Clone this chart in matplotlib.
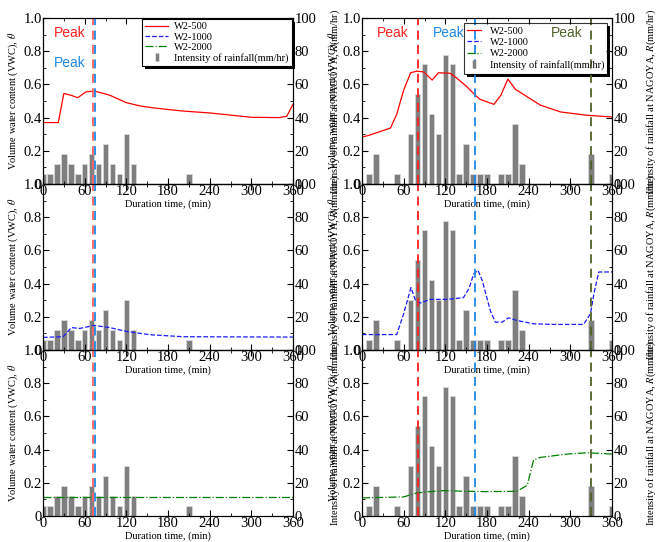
import numpy as np
import matplotlib
matplotlib.use('Agg')
from matplotlib import pyplot as plt
from matplotlib.lines import Line2D
from matplotlib.patches import Rectangle
from matplotlib.ticker import MultipleLocator, FuncFormatter

plt.rcParams['font.family'] = ['Liberation Serif', 'DejaVu Serif']
plt.rcParams['mathtext.fontset'] = 'stix'

# rainfall events (10 min bins, mm/hr)
rain_t_a = [0, 10, 20, 30, 40, 50, 60, 70, 80, 90, 100, 110, 120, 130, 210]
rain_a = [6, 6, 12, 18, 12, 6, 12, 18, 12, 24, 12, 6, 30, 12, 6]
rain_t_b = [10, 20, 50, 70, 80, 90, 100, 110, 120, 130, 140, 150, 160, 170, 180,
            200, 210, 220, 230, 330, 360]
rain_b = [6, 18, 6, 30, 54, 72, 42, 30, 78, 72, 6, 24, 6, 6, 6, 6, 6, 36, 12, 18, 6]

# VWC, event A
t_a500 = [0, 22, 30, 40, 50, 62, 74, 96, 120, 140, 160, 200, 240, 270, 300, 340, 351, 360]
v_a500 = [0.37, 0.37, 0.545, 0.535, 0.52, 0.555, 0.56, 0.535, 0.49, 0.47, 0.458, 0.44,
          0.428, 0.415, 0.402, 0.40, 0.408, 0.48]
t_a1000 = [0, 29, 41, 53, 74, 96, 120, 154, 202, 360]
v_a1000 = [0.076, 0.08, 0.135, 0.13, 0.148, 0.135, 0.112, 0.092, 0.08, 0.078]
t_a2000 = [0, 120, 240, 360]
v_a2000 = [0.115, 0.115, 0.115, 0.115]

# VWC, event B
t_b500 = [0, 10, 24, 41, 50, 60, 70, 79, 89, 101, 110, 127, 137, 151, 163, 170, 190,
          200, 210, 221, 238, 257, 286, 324, 360]
v_b500 = [0.283, 0.293, 0.313, 0.337, 0.42, 0.565, 0.67, 0.68, 0.675, 0.626, 0.67, 0.667,
          0.636, 0.586, 0.535, 0.51, 0.48, 0.535, 0.632, 0.57, 0.525, 0.475, 0.434, 0.414, 0.404]
t_b1000 = [0, 50, 60, 70.5, 77, 84, 98, 122, 146, 154, 161, 167, 173, 185, 192, 202,
           211, 223, 247, 276, 319, 329, 334, 341, 360]
v_b1000 = [0.093, 0.093, 0.218, 0.376, 0.3, 0.283, 0.305, 0.305, 0.315, 0.37, 0.46, 0.48,
           0.42, 0.234, 0.168, 0.168, 0.194, 0.178, 0.158, 0.154, 0.154, 0.218, 0.34, 0.47, 0.47]
t_b2000 = [0, 60, 79, 98, 118, 146, 180, 223, 238, 247, 257, 295, 324, 360]
v_b2000 = [0.109, 0.115, 0.139, 0.147, 0.153, 0.149, 0.147, 0.149, 0.185, 0.337, 0.353,
           0.373, 0.381, 0.373]

peaks_a = [(72, '#ff6060'), (75, '#1e88e5')]
peaks_b = [(80, '#ff2020'), (163, '#1e88e5'), (330, '#4f6228')]

series = [('W2-500', 'red', '-'), ('W2-1000', '#1a1aff', '--'), ('W2-2000', 'green', '-.')]

fig = plt.figure(figsize=(6.57, 5.42), dpi=100)
W = 250/657
H = 166/542
col_x = [43/657, 362/657]
row_y = [1-18/542-H, 1-18/542-2*H, 1-18/542-3*H]

cols = [
    (rain_t_a, rain_a, [(t_a500, v_a500), (t_a1000, v_a1000), (t_a2000, v_a2000)], peaks_a,
     (-0.092, 1.14)),
    (rain_t_b, rain_b, [(t_b500, v_b500), (t_b1000, v_b1000), (t_b2000, v_b2000)], peaks_b,
     (-0.088, 1.132)),
]

legends = []
for c, (rt, rv, curves, peaks, lab_x) in enumerate(cols):
    for r in range(3):
        ax = fig.add_axes([col_x[c], row_y[r], W, H])
        ax2 = ax.twinx()
        ax.set_zorder(ax2.get_zorder()+1)
        ax.patch.set_visible(False)
        ax2.bar(rt, rv, width=8, color='#7f7f7f', edgecolor='#d9d9d9', linewidth=0.6)
        name, col, ls = series[r]
        t, v = curves[r]
        ax.plot(t, v, color=col, ls=ls, lw=0.9)
        for px, pc in peaks:
            ax.axvline(px, color=pc, ls=(0, (5, 3)), lw=1.3)
        ax.set_xlim(0, 360)
        ax.set_ylim(0, 1.0)
        ax2.set_ylim(0, 100)
        ax.xaxis.set_major_locator(MultipleLocator(60))
        ax.xaxis.set_minor_locator(MultipleLocator(30))
        ax.yaxis.set_major_locator(MultipleLocator(0.2))
        ax.yaxis.set_minor_locator(MultipleLocator(0.1))
        ax2.yaxis.set_major_locator(MultipleLocator(20))
        ax2.yaxis.set_minor_locator(MultipleLocator(10))
        ax.yaxis.set_major_formatter(FuncFormatter(lambda y, p: '0' if y == 0 else '%.1f' % y))
        ax.tick_params(which='both', direction='in', top=True, labelsize=10.5, pad=1)
        ax.tick_params(which='major', length=4)
        ax.tick_params(which='minor', length=2)
        ax2.tick_params(which='both', direction='in', labelsize=10.5, pad=1)
        ax2.tick_params(which='major', length=4)
        ax2.tick_params(which='minor', length=2)
        ax.set_xlabel('Duration time, (min)', fontsize=7.5, labelpad=1)
        ax.set_ylabel(r'Volume water content (VWC), $\theta$', fontsize=7.5)
        ax2.set_ylabel(r'Intensity of rainfall at NAGOYA, $R$(mm/hr)', fontsize=7.5)
        ax.yaxis.set_label_coords(lab_x[0], 0.5)
        ax2.yaxis.set_label_coords(lab_x[1], 0.5)

        if r == 0:
            handles = [Line2D([], [], color=s[1], ls=s[2], lw=0.9) for s in series]
            handles.append(Line2D([], [], color='#7f7f7f', marker='|', ls='none',
                                  markersize=6, mew=2.5))
            labels = [s[0] for s in series] + ['Intensity of rainfall(mm/hr)']
            if c == 0:
                leg = ax.legend(handles, labels, loc='upper right', fontsize=7.5,
                                bbox_to_anchor=(1.0, 1.0), borderaxespad=0.1,
                                handlelength=2.2, labelspacing=0.1, fancybox=False,
                                framealpha=1, edgecolor='black', borderpad=0.3,
                                handletextpad=0.6)
                ax.text(38, 0.91, 'Peak', color='#ff2020', fontsize=10, ha='center',
                        va='center', family='Liberation Sans')
                ax.text(38, 0.73, 'Peak', color='#1e88e5', fontsize=10, ha='center',
                        va='center', family='Liberation Sans')
            else:
                leg = ax.legend(handles, labels, loc='upper right', fontsize=7.5,
                                bbox_to_anchor=(0.985, 0.975), borderaxespad=0.1,
                                handlelength=1.4, labelspacing=0.2, fancybox=False,
                                edgecolor='black', borderpad=0.3)
                leg.get_frame().set_facecolor('none')
                ax.text(45, 0.91, 'Peak', color='#ff2020', fontsize=10, ha='center',
                        va='center', family='Liberation Sans')
                ax.text(125, 0.91, 'Peak', color='#1e88e5', fontsize=10, ha='center',
                        va='center', family='Liberation Sans')
                ax.text(295, 0.91, 'Peak', color='#4f6228', fontsize=10, ha='center',
                        va='center', family='Liberation Sans')
            leg.get_frame().set_linewidth(0.8)
            legends.append(leg)

# black drop shadow (right and bottom bands) under each legend box
fig.canvas.draw()
fw, fh = fig.bbox.width, fig.bbox.height
for leg in legends:
    bb = leg.get_frame().get_window_extent()
    d = 3
    fig.add_artist(Rectangle((bb.x1/fw, (bb.y0-d)/fh), d/fw, (bb.height)/fh,
                             color='black', lw=0))
    fig.add_artist(Rectangle(((bb.x0+d)/fw, (bb.y0-d)/fh), (bb.width)/fw, d/fh,
                             color='black', lw=0))

fig.savefig('out.png', dpi=100)
